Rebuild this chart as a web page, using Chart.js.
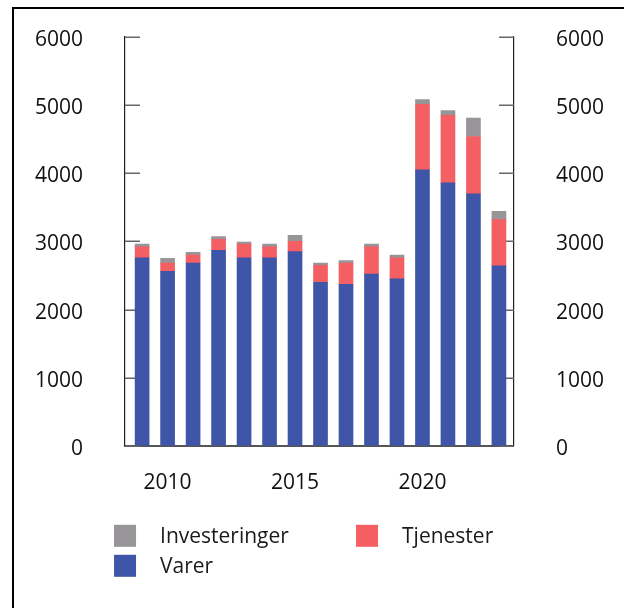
<!DOCTYPE html>
<html><head><meta charset="utf-8">
<script src="https://cdn.jsdelivr.net/npm/chart.js@4.4.0/dist/chart.umd.min.js"></script>
<style>
html,body{margin:0;padding:0;background:#fff;overflow:hidden;width:624px;height:608px}
#frame{position:absolute;left:12px;top:7px;width:700px;height:700px;border:2px solid #000;box-sizing:border-box}
#wrap{position:absolute;left:0;top:0;width:624px;height:608px}
</style></head><body>
<div id="frame"></div>
<div id="wrap"><canvas id="c" width="624" height="608"></canvas></div>
<script>
const years = [2009,2010,2011,2012,2013,2014,2015,2016,2017,2018,2019,2020,2021,2022,2023];
const varer = [2760,2560,2680,2870,2760,2760,2850,2400,2370,2520,2450,4050,3860,3700,2640];
const tjenester = [160,120,120,160,200,160,150,250,310,400,310,960,990,840,680];
const investeringer = [40,70,40,40,30,40,90,30,40,40,40,70,70,270,120];
const xTickYears = [2010,2015,2020];
const yTickValues = [0,1000,2000,3000,4000,5000,6000];
const seriesNames = ['Varer','Tjenester','Investeringer'];
const seriesColors = ['#3f55a7','#f45f63','#979597'];

const FAMILY = "'Open Sans', 'Noto Sans', sans-serif";
const TICK_FONT = {family: FAMILY, size: 21};
const LEGEND_FONT_SIZE = 21;

function pts(vals){ return years.map((y,i)=>({x:y, y:vals[i]})); }

// inward tick marks on both value axes
const innerTicksPlugin = {
  id: 'innerTicks',
  beforeDatasetsDraw(chart) {
    const {ctx} = chart;
    ctx.save();
    ctx.strokeStyle = '#666';
    ctx.lineWidth = 1.5;
    ['y','y2'].forEach(id => {
      const s = chart.scales[id];
      const edge = id === 'y' ? s.right : s.left;
      const dir = id === 'y' ? 1 : -1;
      s.ticks.forEach(t => {
        const py = Math.round(s.getPixelForValue(t.value)) + 0.25;
        ctx.beginPath();
        ctx.moveTo(edge, py);
        ctx.lineTo(edge + dir * 15, py);
        ctx.stroke();
      });
    });
    ctx.restore();
  }
};

const legendPlugin = {
  id: 'customLegend',
  afterDraw(chart) {
    const {ctx, chartArea} = chart;
    const order = [2,1,0];
    const cols = [-11, 231];
    const rows = [79, 109];
    const box = 22;
    ctx.save();
    ctx.font = LEGEND_FONT_SIZE + "px " + FAMILY;
    ctx.textBaseline = 'middle';
    ctx.textAlign = 'left';
    order.forEach((si, k) => {
      const col = k % 2, row = Math.floor(k / 2);
      const bx = chartArea.left + cols[col];
      const by = chartArea.bottom + rows[row];
      ctx.fillStyle = seriesColors[si];
      ctx.fillRect(bx, by, box, box);
      ctx.fillStyle = '#1a1a1a';
      ctx.fillText(seriesNames[si], bx + box + 24, by + box/2 + 1);
    });
    ctx.restore();
  }
};

const yAxisCommon = (pos) => ({
  type: 'linear',
  position: pos,
  min: 0, max: 6000,
  afterBuildTicks: (s) => { s.ticks = yTickValues.map(v => ({value: v})); },
  grid: {drawOnChartArea: false, drawTicks: true, tickLength: 37, tickColor: 'rgba(0,0,0,0)'},
  border: {display: true, color: '#222', width: 1.2},
  ticks: {padding: 5, labelOffset: 3, color: '#111', font: TICK_FONT, callback: (v) => String(v)}
});

const yLeft = yAxisCommon('left'); yLeft.stacked = true;
const yRight = yAxisCommon('right');

new Chart(document.getElementById('c'), {
  type: 'bar',
  data: {
    datasets: seriesNames.map((n, i) => ({
      label: n,
      data: pts([varer, tjenester, investeringer][i]),
      backgroundColor: seriesColors[i],
      borderWidth: 0,
      barThickness: 14,
      xAxisID: 'x', yAxisID: 'y'
    }))
  },
  options: {
    responsive: false,
    animation: false,
    devicePixelRatio: 1,
    layout: {padding: {left: 30, right: 15, top: 37, bottom: 87}},
    plugins: {legend: {display: false}, tooltip: {enabled: false}},
    scales: {
      x: {
        type: 'linear', stacked: true, offset: false,
        min: 2008.33, max: 2023.59,
        afterBuildTicks: (s) => { s.ticks = xTickYears.map(v => ({value: v})); },
        grid: {display: false, drawTicks: false},
        border: {display: true, color: '#555', width: 2},
        ticks: {padding: 25, maxRotation: 0, color: '#111', font: TICK_FONT, callback: (v) => String(v)}
      },
      y: yLeft,
      y2: yRight
    }
  },
  plugins: [innerTicksPlugin, legendPlugin]
});
</script>
</body></html>
